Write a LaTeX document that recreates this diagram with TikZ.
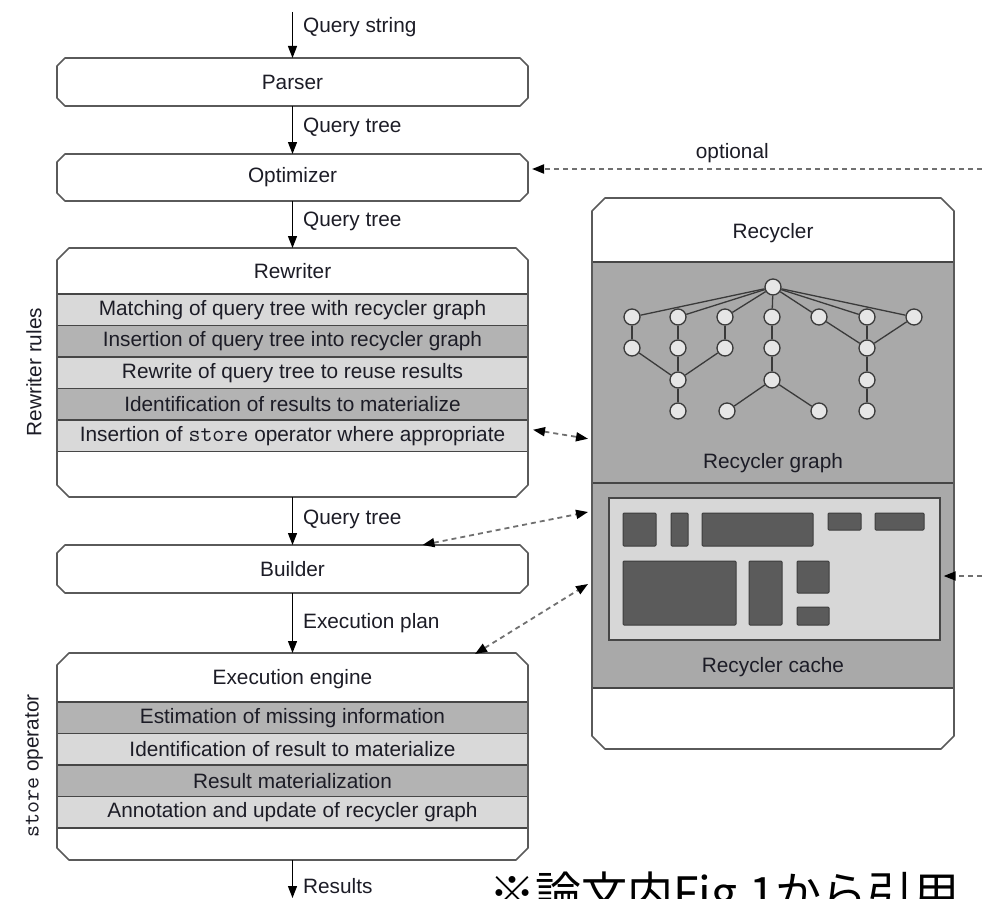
\documentclass[tikz,border=0pt]{standalone}
\usepackage{fontspec}
\setmainfont{Liberation Sans}
\newfontfamily\cjkfont{Noto Sans CJK JP}
\newfontfamily\codefont{Latin Modern Mono}[Scale=1.12]
\usetikzlibrary{arrows.meta,calc}

\definecolor{outline}{HTML}{5A5A5A}
\definecolor{rowline}{HTML}{464646}
\definecolor{rowlight}{HTML}{D9D9D9}
\definecolor{rowdark}{HTML}{B3B3B3}
\definecolor{zone}{HTML}{A9A9A9}
\definecolor{cachefill}{HTML}{D7D7D7}
\definecolor{block}{HTML}{5B5B5B}
\definecolor{blockline}{HTML}{3D3D3D}
\definecolor{ink}{HTML}{1C1C26}
\definecolor{dashgray}{HTML}{707070}
\definecolor{nodefill}{HTML}{E6E6E6}
\definecolor{treeline}{HTML}{3A3A3A}

\newcommand\lbl{\fontsize{20.8}{24}\selectfont}

% chamfered outline around a named rectangular node
\newcommand\chambox[2]{%
  \draw[boxline] ([xshift=#2]#1.north west) -- ([xshift=-#2]#1.north east)
    -- ([yshift=-#2]#1.north east) -- ([yshift=#2]#1.south east)
    -- ([xshift=-#2]#1.south east) -- ([xshift=#2]#1.south west)
    -- ([yshift=#2]#1.south west) -- ([yshift=-#2]#1.north west) -- cycle;}

\tikzset{
  stage/.style={rectangle, fill=white, minimum width=471pt, inner sep=0pt,
    outer sep=0pt, text=ink, font=\lbl},
  boxline/.style={draw=outline, line width=1.6pt, line join=round},
  rowbox/.style={rectangle, draw=rowline, line width=1.6pt, minimum width=471pt,
    minimum height=31.5pt, inner sep=0pt, outer sep=0pt, text=ink, font=\lbl},
  title/.style={inner sep=0pt, text=ink, font=\lbl},
  flow/.style={draw=black, line width=1.3pt, -{Triangle[length=12pt,width=9pt]}},
  flowlabel/.style={right=10pt, inner sep=0pt, text=ink, font=\lbl},
  link/.style={draw=dashgray, line width=1.8pt, dash pattern=on 5pt off 4pt,
    {Triangle[length=12pt,width=9pt,color=black]}-{Triangle[length=12pt,width=9pt,color=black]}},
  feed/.style={draw=dashgray, line width=1.8pt, dash pattern=on 5pt off 4pt,
    -{Triangle[length=12pt,width=9pt,color=black]}},
  gnode/.style={circle, draw=treeline, fill=nodefill, line width=1.3pt,
    minimum size=16pt, inner sep=0pt},
  gedge/.style={draw=treeline, line width=1.3pt},
  zonebox/.style={rectangle, fill=zone, draw=rowline, line width=1.6pt,
    minimum width=362pt, inner sep=0pt, outer sep=0pt},
  blk/.style={fill=block, draw=blockline, line width=1pt, rounded corners=1pt},
}

\begin{document}
\begin{tikzpicture}[x=1pt, y=-1pt]
\path[use as bounding box] (0,0) rectangle (982,899);
\clip (0,0) rectangle (982,899);

% ---------- pipeline stages ----------
\node[stage, minimum height=48pt] (parser) at (292.5,82) {Parser};
\node[stage, minimum height=47pt] (optimizer) at (292.5,177.5) {Optimizer};
\node[stage, minimum height=249pt] (rewriter) at (292.5,372.5) {};
\node[stage, minimum height=48pt] (builder) at (292.5,569) {Builder};
\node[stage, minimum height=207pt] (engine) at (292.5,756.5) {};

\node[title] (rwtitle) at (292.5,271) {Rewriter};
\node[rowbox, fill=rowlight] (r1) at (292.5,309.75) {Matching of query tree with recycler graph};
\node[rowbox, fill=rowdark]  (r2) at (292.5,341.25) {Insertion of query tree into recycler graph};
\node[rowbox, fill=rowlight] (r3) at (292.5,372.75) {Rewrite of query tree to reuse results};
\node[rowbox, fill=rowdark]  (r4) at (292.5,404.25) {Identification of results to materialize};
\node[rowbox, fill=rowlight] (r5) at (292.5,435.75) {Insertion of {\codefont store} operator where appropriate};

\node[title] (egtitle) at (292.5,679) {Execution engine};
\node[rowbox, fill=rowdark]  (e1) at (292.5,717.75) {Estimation of missing information};
\node[rowbox, fill=rowlight] (e2) at (292.5,749.25) {Identification of result to materialize};
\node[rowbox, fill=rowdark]  (e3) at (292.5,780.75) {Result materialization};
\node[rowbox, fill=rowlight] (e4) at (292.5,812.25) {Annotation and update of recycler graph};

\chambox{parser}{8pt}
\chambox{optimizer}{8pt}
\chambox{rewriter}{12pt}
\chambox{builder}{8pt}
\chambox{engine}{12pt}

\node[title, rotate=90] (rwrules) at (34,372) {Rewriter rules};
\node[title, rotate=90] (storeop) at (34,766) {{\codefont store} operator};

% ---------- recycler ----------
\node[stage, minimum width=362pt, minimum height=551pt] (recycler) at (773,473.5) {};
\node[zonebox, minimum height=221pt] (graphzone) at (773,372.5) {};
\node[zonebox, minimum height=205pt] (cachezone) at (773,585.5) {};
\chambox{recycler}{13pt}

\node[title] (rctitle) at (773,233) {Recycler};
\node[title] (rgtitle) at (773,463) {Recycler graph};
\node[title] (rctitle2) at (773,667) {Recycler cache};

% recycler graph
\node[gnode] (g0) at (773,287) {};
\node[gnode] (a1) at (632,317) {};
\node[gnode] (b1) at (678,317) {};
\node[gnode] (c1) at (725,317) {};
\node[gnode] (d1) at (772,317) {};
\node[gnode] (e1n) at (819,317) {};
\node[gnode] (f1) at (867,317) {};
\node[gnode] (h1) at (914,317) {};
\node[gnode] (a2) at (632,348) {};
\node[gnode] (b2) at (678,348) {};
\node[gnode] (c2) at (725,348) {};
\node[gnode] (d2) at (772,348) {};
\node[gnode] (f2) at (867,348) {};
\node[gnode] (b3) at (678,380) {};
\node[gnode] (d3) at (772,380) {};
\node[gnode] (f3) at (867,380) {};
\node[gnode] (b4) at (678,411) {};
\node[gnode] (d4a) at (727,411) {};
\node[gnode] (d4b) at (819,411) {};
\node[gnode] (f4) at (867,411) {};

\foreach \t in {a1,b1,c1,d1,e1n,f1,h1} \draw[gedge] (g0) -- (\t);
\draw[gedge] (a1) -- (a2);
\draw[gedge] (a2) -- (b3);
\draw[gedge] (b1) -- (b2);
\draw[gedge] (b2) -- (b3);
\draw[gedge] (b3) -- (b4);
\draw[gedge] (c1) -- (c2);
\draw[gedge] (c2) -- (b3);
\draw[gedge] (d1) -- (d2);
\draw[gedge] (d2) -- (d3);
\draw[gedge] (d3) -- (d4a);
\draw[gedge] (d3) -- (d4b);
\draw[gedge] (e1n) -- (f2);
\draw[gedge] (f1) -- (f2);
\draw[gedge] (h1) -- (f2);
\draw[gedge] (f2) -- (f3);
\draw[gedge] (f3) -- (f4);

% recycler cache
\node[rectangle, fill=cachefill, draw=rowline, line width=1.4pt, minimum width=331pt,
  minimum height=142pt, inner sep=0pt] (cachebox) at (774.5,569) {};
\draw[blk] (623,513) rectangle (656,546);
\draw[blk] (671,513) rectangle (688,546);
\draw[blk] (702,513) rectangle (813,546);
\draw[blk] (828,513) rectangle (861,530);
\draw[blk] (875,513) rectangle (924,530);
\draw[blk] (623,561) rectangle (736,625);
\draw[blk] (749,561) rectangle (782,625);
\draw[blk] (797,561) rectangle (829,593);
\draw[blk] (797,607) rectangle (829,625);

% ---------- main flow ----------
\coordinate (qin) at (292.5,12);
\coordinate (qout) at (292.5,898);
\draw[flow] (qin) -- (parser.north) node[flowlabel, pos=0.33] {Query string};
\draw[flow] (parser.south) -- (optimizer.north) node[flowlabel, midway, yshift=3pt] {Query tree};
\draw[flow] (optimizer.south) -- (rewriter.north) node[flowlabel, midway, yshift=3pt] {Query tree};
\draw[flow] (rewriter.south) -- (builder.north) node[flowlabel, midway, yshift=2pt] {Query tree};
\draw[flow] (builder.south) -- (engine.north) node[flowlabel, midway] {Execution plan};
\draw[flow] (engine.south) -- (qout) node[flowlabel, pos=0.68] {Results};

% ---------- recycler links ----------
\coordinate (optin) at (982,169);
\draw[feed, shorten >=4pt] (optin) -- (optin -| optimizer.east)
  node[pos=0.55, above=5pt, title] {optional};
\draw[link] ([xshift=5pt,yshift=6pt]r5.east) -- ([xshift=-4pt,yshift=-3pt]recycler.west |- r5.east);
\draw[link] ([xshift=130pt]builder.north) -- ([xshift=-4pt,yshift=-38.5pt]recycler.west);
\draw[link] ([xshift=182.5pt,yshift=-1pt]engine.north) -- ([xshift=-4pt,yshift=-110.5pt]recycler.west);
\coordinate (cin) at (982,576);
\draw[feed, shorten >=3pt] (cin) -- (cin -| cachebox.east);

% ---------- note ----------
\node[anchor=base west, inner sep=0pt, font=\cjkfont\fontsize{46}{50}\selectfont] (note)
  at (489,910) {※論文内Fig.1から引用};
\end{tikzpicture}
\end{document}
